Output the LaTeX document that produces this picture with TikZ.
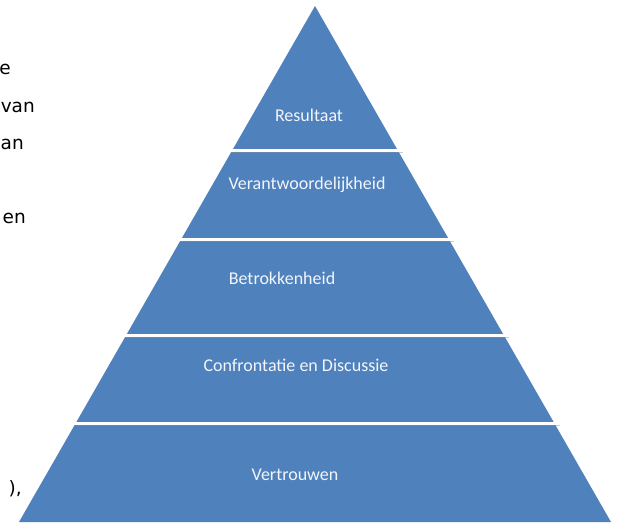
\documentclass[tikz,border=0pt]{standalone}
\usepackage{fontspec}
\setmainfont{Carlito}
\newfontfamily\bodyfont{DejaVu Sans}
\definecolor{layerblue}{HTML}{4F81BD}
\definecolor{edgeshade}{HTML}{8A8F96}
\definecolor{labelwhite}{HTML}{F2F5FA}
\tikzset{
  layerlabel/.style={text=labelwhite, font=\fontsize{18}{20}\selectfont, inner sep=0pt},
  fragment/.style={text=black, font=\bodyfont\fontsize{18.5}{22}\selectfont, inner sep=0pt, anchor=east},
  gapline/.style={draw=white, line width=3pt},
  gapshade/.style={draw=edgeshade, line width=1.2pt, opacity=0.45}
}
\begin{document}
\begin{tikzpicture}[x=1pt,y=-1pt]
  \useasboundingbox (0,0) rectangle (619,525);

  % pyramid body
  \coordinate (apex) at (315,6);
  \coordinate (bl) at (19,522);
  \coordinate (br) at (611,522);
  \fill[layerblue] (apex) -- (br) -- (bl) -- cycle;

  % separators between the layers (shadow first, white gap on top)
  \foreach \yy/\hw in {150/82.8, 239/134, 335/189, 423/240} {
    \draw[gapshade] (315-\hw-1,\yy+2.3) -- (315+\hw+5,\yy+2.3);
    \draw[gapline] (315-\hw-3,\yy) -- (315+\hw+3,\yy);
  }

  % layer labels
  \node[layerlabel] (l1) at (309,115) {Resultaat};
  \node[layerlabel] (l2) at (307,185) {Verantwoordelijkheid};
  \node[layerlabel] (l3) at (282,278) {Betrokkenheid};
  \node[layerlabel] (l4) at (296,365) {Confrontatie en Discussie};
  \node[layerlabel] (l5) at (295,475) {Vertrouwen};

  % line endings of the running text on the left
  \node[fragment] (t1) at (11,69) {e};
  \node[fragment] (t2) at (35,107) {van};
  \node[fragment] (t3) at (24,144) {an};
  \node[fragment] (t4) at (26,218) {en};
  \node[fragment] (t5) at (22,489) {),};
\end{tikzpicture}
\end{document}
